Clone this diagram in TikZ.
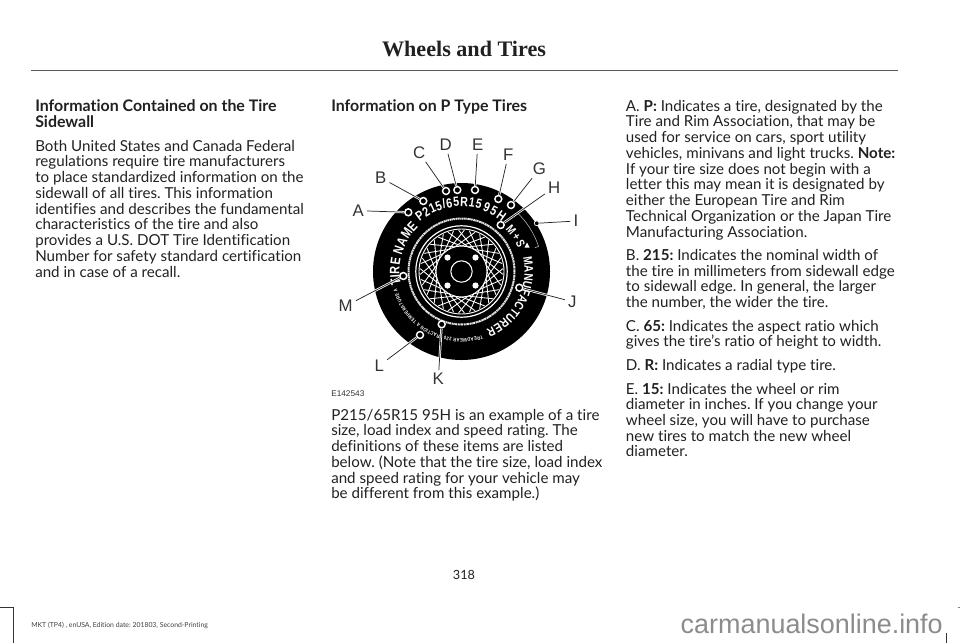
\documentclass[tikz,border=0pt]{standalone}
\usepackage{fontspec}
\setmainfont{Lato}[Ligatures=CommonOff]
\newfontfamily\titlefont{Liberation Serif}
\newfontfamily\labelfont{Liberation Sans}
\newfontfamily\condfont[FakeStretch=0.8]{Liberation Sans}
\usetikzlibrary{decorations.text}
\definecolor{ink}{gray}{0.13}
\AtBeginDocument{\frenchspacing}
\tikzset{
 bodytext/.style={anchor=base west,inner sep=0,font=\fontsize{11.35}{12}\selectfont,text=ink},
 headtext/.style={anchor=base west,inner sep=0,font=\fontsize{11.95}{12}\selectfont\bfseries,text=ink},
 callout/.style={anchor=center,inner sep=2.2pt,font=\labelfont\fontsize{12.6}{15}\selectfont,text=black!80},
 leader/.style={draw=black!85,line width=0.55pt,preaction={draw=white,line width=1.7pt}},
 dot/.style={circle,fill=black,draw=white,line width=1.1pt,minimum size=5.2pt,inner sep=0},
 smalldot/.style={circle,fill=black,draw=white,line width=0.5pt,minimum size=3.6pt,inner sep=0},
 ring/.style={decorate,decoration={text along path,text align=fit to path,text color=white,text={#1}}},
}
\newcommand\txt[4]{\node[bodytext] (#1) at (#2,#3) {#4};}
\begin{document}
\begin{tikzpicture}[x=0.75pt,y=-0.75pt]
\useasboundingbox (0,0) rectangle (960,643);
\fill[white] (0,0) rectangle (960,643);
% header
\draw[black!65,line width=0.75pt] (31,70) -- (898,70);
\node[anchor=base,inner sep=0,font=\titlefont\fontsize{16.6}{18}\selectfont\bfseries,text=ink] (title) at (464,56.7) {Wheels and Tires};
% left column
\node[headtext] (h1) at (35,111.5) {Information Contained on the Tire};
\node[headtext] (h2) at (35,127.3) {Sidewall};
\txt{a1}{35}{151}{Both United States and Canada Federal}
\txt{a2}{35}{166.75}{regulations require tire manufacturers}
\txt{a3}{35}{182.5}{to place standardized information on the}
\txt{a4}{35}{198.25}{sidewall of all tires. This information}
\txt{a5}{35}{214}{identifies and describes the fundamental}
\txt{a6}{35}{229.75}{characteristics of the tire and also}
\txt{a7}{35}{245.5}{provides a U.S. DOT Tire Identification}
\txt{a8}{35}{261.25}{Number for safety standard certification}
\txt{a9}{35}{277}{and in case of a recall.}
% middle column
\node[headtext] (h3) at (331,111.5) {Information on P Type Tires};
\txt{b1}{331}{420}{P215/65R15 95H is an example of a tire}
\txt{b2}{331}{435.75}{size, load index and speed rating. The}
\txt{b3}{331}{451.5}{definitions of these items are listed}
\txt{b4}{331}{467.25}{below. (Note that the tire size, load index}
\txt{b5}{331}{483}{and speed rating for your vehicle may}
\txt{b6}{331}{498.75}{be different from this example.)}
% right column
\txt{c1}{625.7}{111}{A. \textbf{P:} Indicates a tire, designated by the}
\txt{c2}{625.7}{126.75}{Tire and Rim Association, that may be}
\txt{c3}{625.7}{142.5}{used for service on cars, sport utility}
\txt{c4}{625.7}{158.25}{vehicles, minivans and light trucks. \textbf{Note:}}
\txt{c5}{625.7}{174}{If your tire size does not begin with a}
\txt{c6}{625.7}{189.75}{letter this may mean it is designated by}
\txt{c7}{625.7}{205.5}{either the European Tire and Rim}
\txt{c8}{625.7}{221.25}{Technical Organization or the Japan Tire}
\txt{c9}{625.7}{237}{Manufacturing Association.}
\txt{c10}{625.7}{260.3}{B. \textbf{215:} Indicates the nominal width of}
\txt{c11}{625.7}{276}{the tire in millimeters from sidewall edge}
\txt{c12}{625.7}{291.7}{to sidewall edge. In general, the larger}
\txt{c13}{625.7}{307.5}{the number, the wider the tire.}
\txt{c14}{625.7}{331}{C. \textbf{65:} Indicates the aspect ratio which}
\txt{c15}{625.7}{346.7}{gives the tire\char39 s ratio of height to width.}
\txt{c16}{625.7}{370.3}{D. \textbf{R:} Indicates a radial type tire.}
\txt{c17}{625.7}{394}{E. \textbf{15:} Indicates the wheel or rim}
\txt{c18}{625.7}{409.7}{diameter in inches. If you change your}
\txt{c19}{625.7}{425.4}{wheel size, you will have to purchase}
\txt{c20}{625.7}{441}{new tires to match the new wheel}
\txt{c21}{625.7}{456.7}{diameter.}
% footer
\node[anchor=base,inner sep=0,font=\fontsize{9.5}{12}\selectfont,text=ink] (page) at (464,579) {318};
\node[anchor=base west,inner sep=0,font=\fontsize{5.15}{7}\selectfont,text=black!75] (foot) at (31,627.5) {MKT (TP4) , enUSA, Edition date: 201803, Second-Printing};
\node[anchor=base east,inner sep=0,font=\labelfont\fontsize{20.2}{22}\selectfont,text=black!45] (mark) at (943,633) {carmanualsonline.info};
% crop marks
\draw[black!80,line width=0.7pt] (0,607) -- (13.5,607) -- (13.5,643);
\draw[black!80,line width=0.7pt] (946,633) -- (946,643);
\draw[black!50,line width=0.5pt] (957.5,607) -- (960,607);
% tyre
\begin{scope}[shift={(461.5,271.5)},x=0.75pt,y=0.75pt]
 \fill[black] (0,0) circle[radius=88.5];
 % fine print band, too small to read
 \draw[white!90!black,line width=1.5pt,dash pattern=on 1.1pt off 0.35pt on 0.7pt off 0.35pt on 1.5pt off 0.5pt] (0,0) circle[radius=53];
 % rim
 \draw[white,line width=0.9pt] (0,0) circle[radius=45.7];
 \draw[white,line width=0.7pt] (0,0) circle[radius=42.5];
 \foreach \a in {0,15,...,345}{
   \draw[white,line width=0.65pt] (\a:25.5) -- (\a+34:41.5);
   \draw[white,line width=0.65pt] (\a:25.5) -- (\a-34:41.5);
 }
 \fill[black] (0,0) circle[radius=25];
 \draw[white,line width=0.7pt] (0,0) circle[radius=25.5];
 \draw[white,line width=0.8pt] (0,0) circle[radius=10.7];
 \foreach \x/\y in {-14/14,14/14,-14/-14,14/-14}{ \fill[white] (\x,\y) circle[radius=3.1]; }
 % M+S bracket and mark
 \draw[white!70!black,line width=0.45pt] (46:81) arc[start angle=46,end angle=18,radius=60.75pt] -- (18:77);
 \fill[white] (63,24) -- (68,24) -- (65.5,29) -- cycle;
 % sidewall lettering
 \path[ring={|\condfont\bfseries\fontsize{10}{10}\selectfont|P215/65R15}] (130:65) arc[start angle=130,end angle=73,radius=48.75pt];
 \path[ring={|\condfont\bfseries\fontsize{10}{10}\selectfont|95H}] (71:64) arc[start angle=71,end angle=51,radius=48pt];
 \path[ring={|\condfont\bfseries\fontsize{9}{10}\selectfont|M+S}] (44:61) arc[start angle=44,end angle=22,radius=45.75pt];
 \path[ring={|\condfont\bfseries\fontsize{10.3}{10}\selectfont|TIRE NAME}] (192:62) arc[start angle=192,end angle=134,radius=46.5pt];
 \path[ring={|\condfont\bfseries\fontsize{9.4}{10}\selectfont|MANUFACTURER}] (13:63) arc[start angle=13,end angle=-67,radius=47.25pt];
 \path[ring={|\condfont\bfseries\fontsize{3.8}{5}\selectfont|TREADWEAR 220 TRACTION A TEMPERATURE A}] (-72:67) arc[start angle=-72,end angle=-165,radius=50.25pt];
\end{scope}
% callout dots
\node[dot] (dA) at (408.3,212.3) {};
\node[dot] (dB) at (423.3,201) {};
\node[dot] (dC) at (446,191) {};
\node[dot] (dD) at (457.3,190) {};
\node[dot] (dE) at (475,190) {};
\node[dot] (dF) at (498.3,199) {};
\node[dot] (dG) at (511,205) {};
\node[dot] (dH) at (500.7,225) {};
\node[smalldot] (dI) at (536.7,223.3) {};
\node[dot] (dJ) at (519.3,287.7) {};
\node[dot] (dK) at (441.7,324.3) {};
\node[dot] (dL) at (420,335) {};
\node[dot] (dM) at (403.3,276) {};
% callout labels
\node[callout] (lA) at (358.3,210.7) {A};
\node[callout] (lB) at (380.7,177.7) {B};
\node[callout] (lC) at (419.3,152.7) {C};
\node[callout] (lD) at (445.7,145) {D};
\node[callout] (lE) at (477.7,145) {E};
\node[callout] (lF) at (508.3,155) {F};
\node[callout] (lG) at (539.3,169) {G};
\node[callout] (lH) at (554.3,187.3) {H};
\node[callout] (lI) at (576,221) {I};
\node[callout] (lJ) at (572.3,301.7) {J};
\node[callout] (lK) at (438.3,379) {K};
\node[callout] (lL) at (379.3,365.7) {L};
\node[callout] (lM) at (345.7,306) {M};
\foreach \n in {A,B,C,D,E,F,G,H,I,J,K,L,M}{ \draw[leader] (l\n) -- (d\n); }
\node[anchor=base west,inner sep=0,font=\labelfont\fontsize{6.2}{7}\selectfont,text=black!80] (code) at (331,396) {E142543};
\end{tikzpicture}
\end{document}
